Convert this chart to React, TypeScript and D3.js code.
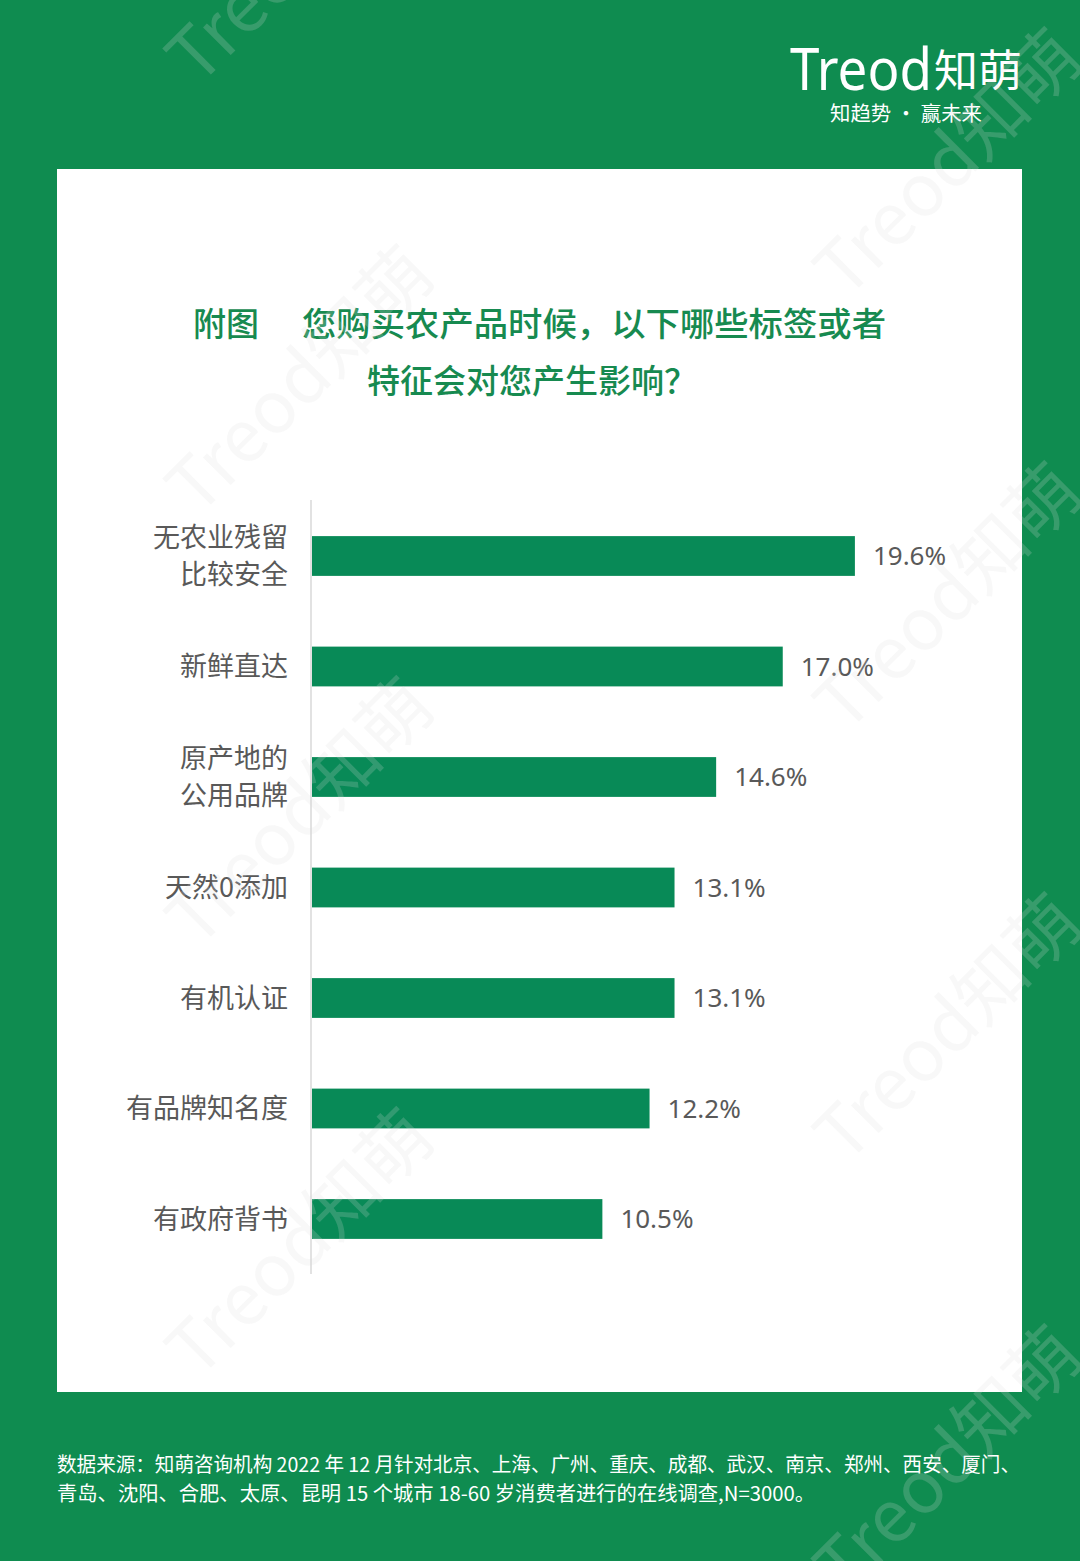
import React from "react";
import * as d3 from "d3";

const categories = ["无农业残留\n比较安全", "新鲜直达", "原产地的\n公用品牌", "天然0添加", "有机认证", "有品牌知名度", "有政府背书"];
const values = [19.6, 17.0, 14.6, 13.1, 13.1, 12.2, 10.5];
const titleLine1a = "附图";
const titleLine1b = "您购买农产品时候，以下哪些标签或者";
const titleLine2 = "特征会对您产生影响？";
const footLines = [
  "数据来源：知萌咨询机构 2022 年 12 月针对北京、上海、广州、重庆、成都、武汉、南京、郑州、西安、厦门、",
  "青岛、沈阳、合肥、太原、昆明 15 个城市 18-60 岁消费者进行的在线调查,N=3000。",
];
const footWidths = [963, 758];
const watermarkCenters: [number, number][] = [
  [300, -50], [300, 380], [300, 812], [300, 1243],
  [948, 163], [948, 597], [948, 1028], [948, 1460],
];

const W = 1080;
const H = 1561;
const GREEN = "#0f8c50";
const BAR = "#088a57";
const CJK = "'Noto Sans CJK SC', 'Noto Sans', sans-serif";

export default function App() {
  const x = d3.scaleLinear().domain([0, 20]).range([311, 866]);
  const y = d3
    .scaleBand<string>()
    .domain(categories)
    .range([500.75, 1274.25])
    .paddingInner(0.64)
    .paddingOuter(0.32);

  return (
    <div style={{ position: "absolute", left: 0, top: 0 }}>
      <svg width={W} height={H} style={{ display: "block" }}>
        <rect x={0} y={0} width={W} height={H} fill={GREEN} />
        <rect x={57} y={169} width={965} height={1223} fill="#ffffff" />

        {/* logo */}
        <text x={790} y={90} fill="#fff" fontFamily="'Noto Sans', sans-serif" fontSize={58} fontWeight={400} textLength={142} lengthAdjust="spacingAndGlyphs">Treod</text>
        <text x={934} y={87} fill="#fff" fontFamily={CJK} fontSize={44} fontWeight={400}>知萌</text>
        <text x={830} y={121} fill="#fff" fontFamily={CJK} fontSize={20} textLength={152} lengthAdjust="spacingAndGlyphs">知趋势 · 赢未来</text>

        {/* title */}
        <g fill="#178a50" fontFamily={CJK} fontSize={33} fontWeight={500}>
          <text x={193} y={336}>{titleLine1a}</text>
          <text x={302} y={336} textLength={584} lengthAdjust="spacingAndGlyphs">{titleLine1b}</text>
          <text x={532} y={393} textAnchor="middle">{titleLine2}</text>
        </g>

        {/* axis line */}
        <line x1={311} x2={311} y1={500} y2={1274} stroke="#d9d9d9" strokeWidth={1.5} />

        {/* bars */}
        {categories.map((c, i) => {
          const yc = (y(c) as number) + y.bandwidth() / 2;
          const lines = c.split("\n");
          return (
            <g key={c}>
              <rect x={x(0) + 1} y={y(c)} width={x(values[i]) - x(0) - 1} height={y.bandwidth()} fill={BAR} />
              <text x={x(values[i]) + 18} y={yc} dy="0.35em" fill="#595959" fontFamily="'Noto Sans', sans-serif" fontSize={26}>
                {values[i].toFixed(1) + "%"}
              </text>
              {lines.map((l, j) => (
                <text key={j} x={288} y={yc + (j - (lines.length - 1) / 2) * 37} dy="0.36em" textAnchor="end" fill="#595959" fontFamily={CJK} fontSize={27}>
                  {l}
                </text>
              ))}
            </g>
          );
        })}

        {/* footnote */}
        <g fill="#fff" fontFamily={CJK} fontSize={20}>
          {footLines.map((l, i) => (
            <text key={i} x={57} y={1472 + i * 29} textLength={footWidths[i]} lengthAdjust="spacingAndGlyphs">{l}</text>
          ))}
        </g>

        {/* watermarks */}
        <g fill="#dcdcdc" fillOpacity={0.2} fontFamily={CJK} fontSize={72}>
          {watermarkCenters.map(([cx, cy], i) => (
            <text key={i} x={cx} y={cy} dy="0.35em" textAnchor="middle" transform={`rotate(-45 ${cx} ${cy})`}>
              Treod知萌
            </text>
          ))}
        </g>
      </svg>
    </div>
  );
}
